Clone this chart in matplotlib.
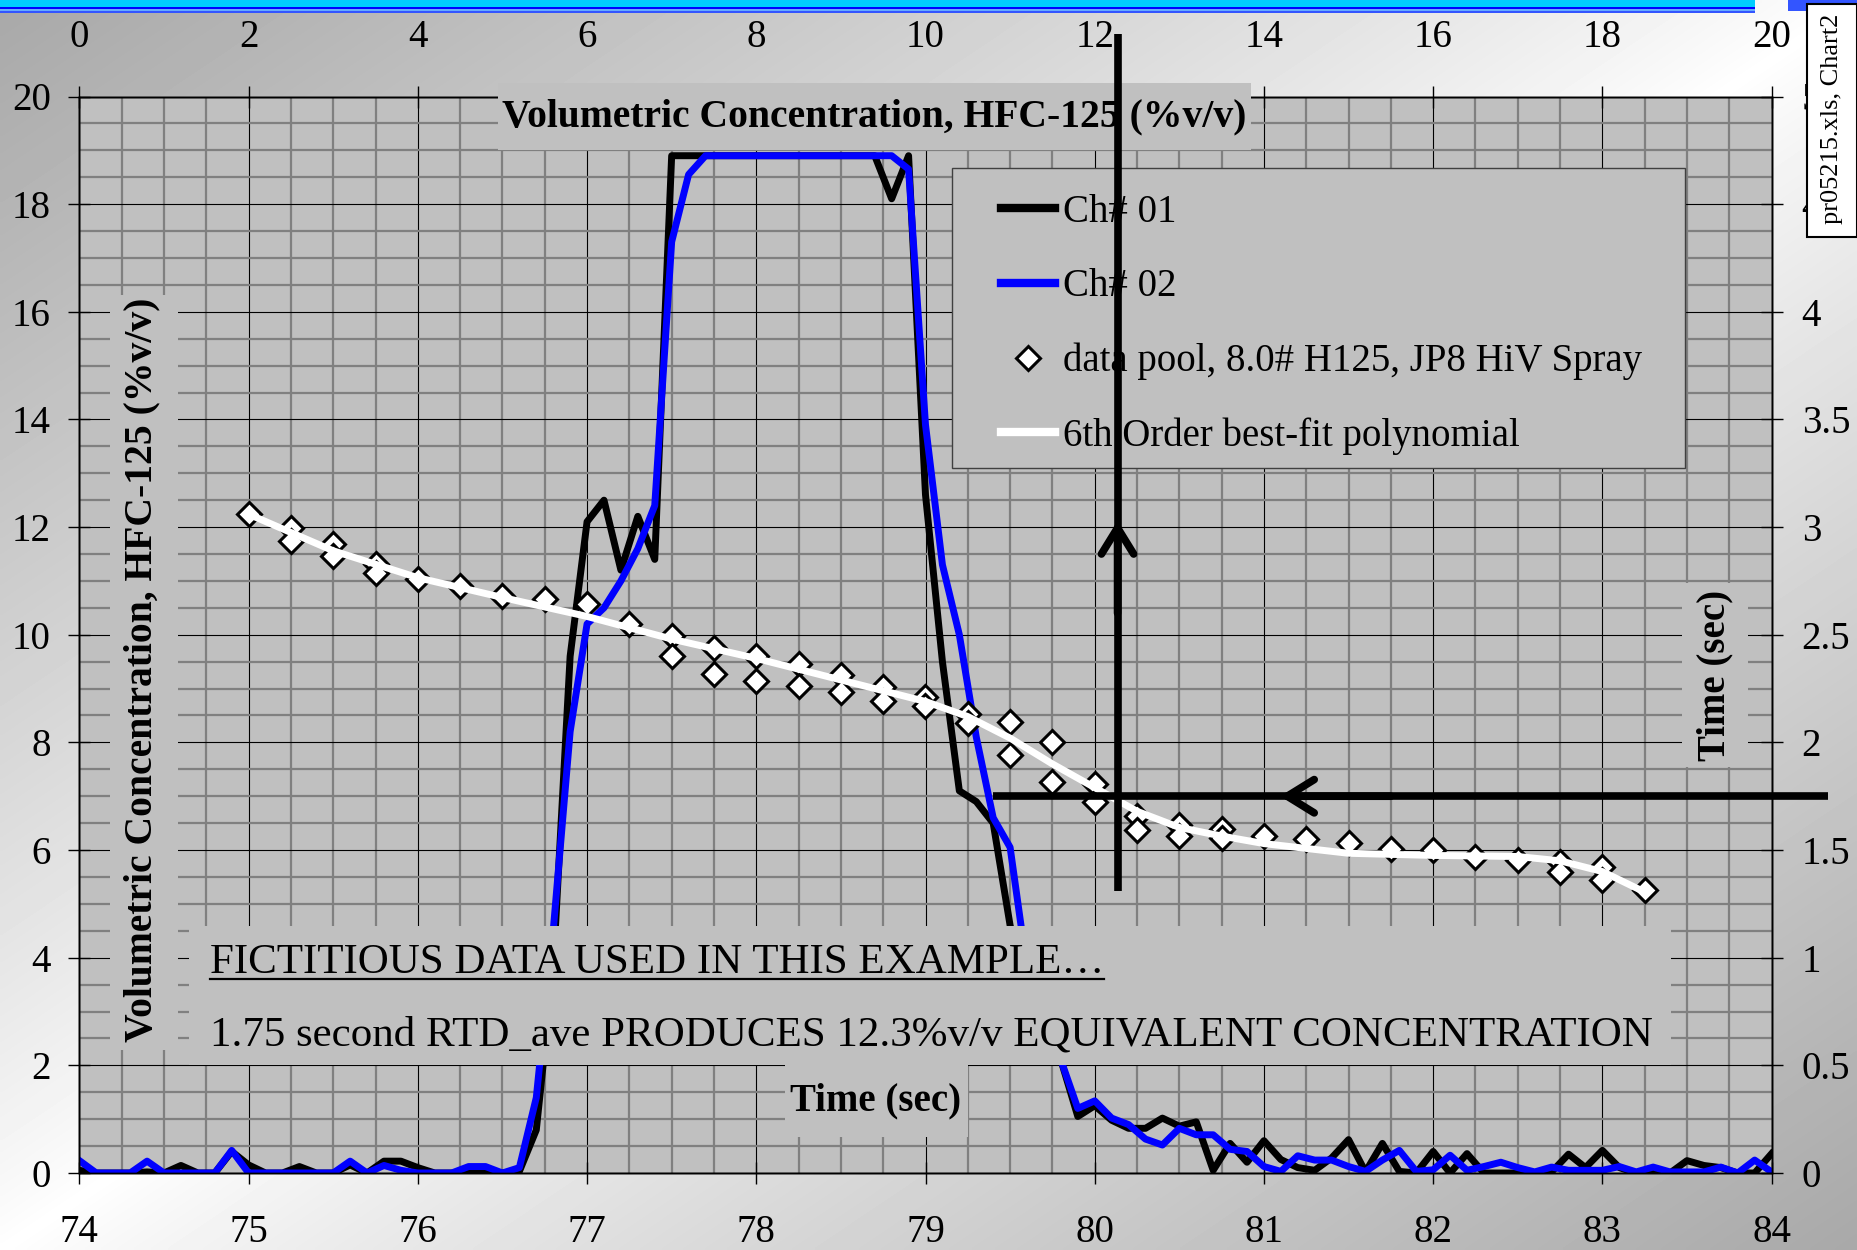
import numpy as np
import matplotlib
matplotlib.use("Agg")
import matplotlib.pyplot as plt
from matplotlib.patches import Rectangle
from matplotlib.lines import Line2D
from matplotlib.ticker import MultipleLocator, FuncFormatter

plt.rcParams['font.family'] = ['Liberation Serif', 'DejaVu Serif']

W, H = 1858, 1250

# channel traces, one sample every 0.1 s from 74.0 to 84.0 s
time_ch = np.round(np.arange(74.0, 84.05, 0.1), 1)
ch01 = [0.05, 0, 0, 0, 0.02, 0, 0.14, 0, 0, 0.40,
        0.15, 0, 0, 0.12, 0, 0, 0.15, 0, 0.22, 0.22,
        0.10, 0, 0, 0.05, 0.05, 0, 0.03, 0.8, 3.8, 9.6,
        12.1, 12.5, 11.2, 12.2, 11.4, 18.9, 18.9, 18.9, 18.9, 18.9,
        18.9, 18.9, 18.9, 18.9, 18.9, 18.9, 18.9, 18.9, 18.1, 18.9,
        12.6, 9.5, 7.1, 6.9, 6.5, 4.6, 3.4, 2.7, 2.1, 1.05,
        1.25, 0.98, 0.83, 0.83, 1.02, 0.87, 0.95, 0.05, 0.55, 0.2,
        0.6, 0.25, 0.1, 0.05, 0.28, 0.62, 0.02, 0.55, 0.03, 0,
        0.4, 0, 0.36, 0, 0, 0, 0, 0.02, 0.35, 0.1,
        0.42, 0.1, 0, 0.05, 0, 0.23, 0.14, 0.1, 0, 0,
        0.36]
ch02 = [0.23, 0, 0, 0, 0.22, 0, 0, 0, 0, 0.42,
        0, 0, 0, 0, 0, 0, 0.22, 0, 0.14, 0.05,
        0, 0, 0, 0.12, 0.12, 0, 0.1, 1.4, 4.5, 8.2,
        10.2, 10.5, 11.0, 11.6, 12.4, 17.3, 18.55, 18.9, 18.9, 18.9,
        18.9, 18.9, 18.9, 18.9, 18.9, 18.9, 18.9, 18.9, 18.9, 18.65,
        13.9, 11.3, 10.0, 8.1, 6.6, 6.05, 3.8, 2.9, 2.1, 1.2,
        1.34, 1.02, 0.9, 0.63, 0.52, 0.83, 0.71, 0.71, 0.44, 0.4,
        0.12, 0.03, 0.32, 0.24, 0.24, 0.12, 0.03, 0.24, 0.42, 0.03,
        0.06, 0.33, 0.05, 0.12, 0.2, 0.1, 0.02, 0.11, 0.05, 0.05,
        0.05, 0.12, 0.02, 0.11, 0.02, 0.02, 0.02, 0.11, 0.0, 0.24,
        0.02]

# data pool (top x axis vs right time axis)
pool_x = [2, 2.5, 2.5, 3, 3, 3.5, 3.5, 4, 4.5, 5, 5.5, 6, 6.5,
          7, 7, 7.5, 7.5, 8, 8, 8.5, 8.5, 9, 9, 9.5, 9.5, 10, 10,
          10.5, 10.5, 11, 11, 11.5, 11.5, 12, 12, 12.5, 12.5, 13, 13,
          13.5, 13.5, 14, 14.5, 15, 15.5, 16, 16.5, 17, 17.5, 17.5,
          18, 18, 18.5]
pool_t = [3.063, 2.997, 2.936, 2.92, 2.866, 2.828, 2.789, 2.761, 2.727, 2.681, 2.665, 2.642, 2.552,
          2.495, 2.40, 2.44, 2.32, 2.40, 2.287, 2.362, 2.26, 2.314, 2.234, 2.255, 2.194, 2.213, 2.168,
          2.133, 2.088, 2.093, 1.942, 2.0, 1.818, 1.809, 1.721, 1.656, 1.593, 1.617, 1.564,
          1.598, 1.555, 1.564, 1.551, 1.532, 1.506, 1.498, 1.47, 1.452, 1.444, 1.398,
          1.421, 1.359, 1.313]

# 6th order fit
poly_x = [2, 3, 4, 5, 6, 7, 8, 9, 10, 10.5, 11, 11.5, 12, 12.5, 13, 13.5, 14, 15, 16, 17, 17.5, 18, 18.5]
poly_t = [3.06, 2.89, 2.765, 2.673, 2.585, 2.48, 2.39, 2.29, 2.19, 2.12, 2.02, 1.9, 1.79, 1.68, 1.605,
          1.565, 1.53, 1.485, 1.475, 1.47, 1.45, 1.40, 1.305]

x_equiv = 12.27
t_rtd = 1.75

legend_labels = ['Ch# 01', 'Ch# 02', 'data pool, 8.0# H125, JP8 HiV Spray', '6th Order best-fit polynomial']
title_txt = 'Volumetric Concentration, HFC-125 (%v/v)'


def fx(px):
    return px / W


def fy(py):
    return 1 - py / H


fig = plt.figure(figsize=(W / 100, H / 100), dpi=100)

# background gradient + top band
bg = fig.add_axes([0, 0, 1, 1], zorder=-1)
yy, xx = np.mgrid[0:H:4, 0:W:4]
u = xx / W + yy / H
shade = 1 - 0.34 * np.abs(u - 1) ** 0.85
bg.imshow(shade, cmap='gray', vmin=0, vmax=1, extent=[0, W, H, 0], aspect='auto', interpolation='bilinear')
for y0, y1, c in [(0, 7, '#00ccff'), (7, 9, '#0000ff'), (9, 11, '#66aaff'), (11, 13, '#3355ff')]:
    bg.add_patch(Rectangle((0, y0), 1755, y1 - y0, color=c, lw=0))
bg.add_patch(Rectangle((1788, 0), 70, 11, color='#3355ff', lw=0))
bg.set_xlim(0, W)
bg.set_ylim(H, 0)
bg.axis('off')

ax = fig.add_axes([fx(79.4), fy(1173), fx(1771.6) - fx(79.4), (1173 - 96.5) / H])
ax.set_facecolor('#c0c0c0')
ax.set_xlim(74, 84)
ax.set_ylim(0, 20)
ax.xaxis.set_major_locator(MultipleLocator(1))
ax.yaxis.set_major_locator(MultipleLocator(2))
ax.xaxis.set_minor_locator(MultipleLocator(0.25))
ax.yaxis.set_minor_locator(MultipleLocator(0.5))
ax.grid(which='minor', color='#808080', lw=1.6)
ax.grid(which='major', color='black', lw=0.8)
ax.tick_params(which='major', direction='inout', length=16.5, width=1, labelsize=28)
ax.tick_params(which='minor', length=0)
ax.tick_params(axis='y', pad=12.2)
ax.tick_params(axis='x', pad=21.5)

l1, = ax.plot(time_ch, ch01, color='black', lw=5, zorder=3)
l2, = ax.plot(time_ch, ch02, color='#0000ff', lw=5, zorder=3)

ax_t = ax.twinx()
ax_t.set_ylim(0, 5)
ax_t.yaxis.set_major_locator(MultipleLocator(0.5))
ax_t.yaxis.set_major_formatter(FuncFormatter(lambda v, p: f'{v:g}'))
ax_t.tick_params(axis='y', direction='inout', length=16.5, width=1, labelsize=28, pad=13.4)

ax_s = ax_t.twiny()
ax_s.set_xlim(0, 20)
ax_s.xaxis.set_major_locator(MultipleLocator(2))
ax_s.tick_params(axis='x', direction='inout', length=16.5, width=1, labelsize=28, pad=21)
for a in (ax, ax_t, ax_s):
    for s in a.spines.values():
        s.set_color('black')
        s.set_linewidth(1)

sc, = ax_s.plot(pool_x, pool_t, 'D', ms=12, mfc='white', mec='black', mew=2.2, ls='none', zorder=3)
lp, = ax_s.plot(poly_x, poly_t, color='white', lw=5, zorder=3.5)


def box(x0, y0, x1, y1, fc='#c0c0c0', ec='none', lw=0, z=4):
    r = Rectangle((fx(x0), fy(y1)), (x1 - x0) / W, (y1 - y0) / H, transform=fig.transFigure,
                  facecolor=fc, edgecolor=ec, lw=lw, zorder=z, clip_on=False)
    ax_s.add_patch(r)


# text boxes
box(498, 83, 1251, 150)
ax_s.text(fx(874), fy(117), title_txt, transform=fig.transFigure, ha='center', va='center',
          fontsize=28.5, fontweight='bold', zorder=4.5)
box(110, 295, 178, 1050)
ax_s.text(fx(142), fy(670), title_txt, transform=fig.transFigure, ha='center', va='center',
          rotation=90, fontsize=28.5, fontweight='bold', zorder=4.5)
box(1682, 583, 1748, 767)
ax_s.text(fx(1715), fy(675), 'Time (sec)', transform=fig.transFigure, ha='center', va='center',
          rotation=90, fontsize=28, fontweight='bold', zorder=4.5)
box(785, 1065, 968, 1137)
ax_s.text(fx(876), fy(1101), 'Time (sec)', transform=fig.transFigure, ha='center', va='center',
          fontsize=28, fontweight='bold', zorder=4.5)
box(189, 926, 1671, 1065)
note1 = ax_s.text(fx(210), fy(973), 'FICTITIOUS DATA USED IN THIS EXAMPLE\u2026', transform=fig.transFigure,
                  ha='left', va='baseline', fontsize=31, zorder=4.5)
ax_s.text(fx(210), fy(1045), '1.75 second RTD_ave PRODUCES 12.3%v/v EQUIVALENT CONCENTRATION',
          transform=fig.transFigure, ha='left', va='baseline', fontsize=31, zorder=4.5)

# legend
box(952, 168, 1685, 468, ec='#404040', lw=1, z=4.8)
leg = ax_s.legend([l1, l2, sc, lp], legend_labels, loc='upper left',
                  bbox_to_anchor=(fx(1001), fy(194)), bbox_transform=fig.transFigure,
                  frameon=False, borderpad=0, borderaxespad=0, fontsize=28,
                  handlelength=1.39, handletextpad=0.2, labelspacing=0.96, numpoints=1)
leg.set_zorder(5)
for h in leg.legend_handles:
    if h.get_linestyle() != 'None':
        h.set_linewidth(6)

# crosshair arrows
ax_s.plot([x_equiv, x_equiv], [1.31, 5.29], color='black', lw=5.5, clip_on=False, zorder=7,
          solid_capstyle='butt')
ax_s.plot([10.8, 20.67], [t_rtd, t_rtd], color='black', lw=5.5, clip_on=False, zorder=7,
          solid_capstyle='butt')
ax_s.annotate('', xy=(x_equiv, 3.03), xytext=(x_equiv, 2.6), annotation_clip=False, zorder=7,
              arrowprops=dict(arrowstyle='->,head_length=0.94,head_width=0.58', mutation_scale=20,
                              lw=5.5, color='black', shrinkA=0, shrinkB=0))
ax_s.annotate('', xy=(14.19, t_rtd), xytext=(15.5, t_rtd), annotation_clip=False, zorder=7,
              arrowprops=dict(arrowstyle='->,head_length=0.97,head_width=0.6', mutation_scale=20,
                              lw=5.5, color='black', shrinkA=0, shrinkB=0))

# file tag on the right edge
fig.add_artist(Rectangle((fx(1807), fy(237)), 50 / W, 233 / H, transform=fig.transFigure,
                         facecolor='white', edgecolor='black', lw=1.5, zorder=10))
fig.text(fx(1832), fy(119), 'pr05215.xls, Chart2', rotation=90, ha='center', va='center',
         fontsize=19, zorder=11)

# underline for the first note line
fig.canvas.draw()
bb = note1.get_window_extent()
ax_s.add_line(Line2D([bb.x0 / W, bb.x1 / W], [fy(979), fy(979)], transform=fig.transFigure,
                     color='black', lw=1.6, zorder=4.6, clip_on=False))

fig.savefig('out.png', dpi=100)
